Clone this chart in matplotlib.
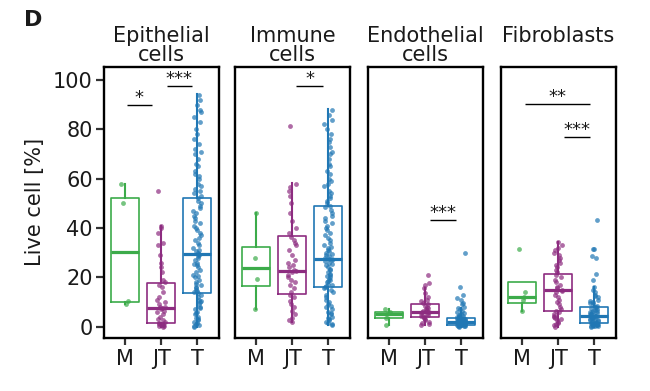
import numpy as np
import matplotlib
matplotlib.use("Agg")
import matplotlib.pyplot as plt

plt.rcParams['font.family'] = ['DejaVu Sans']

categories = ["M", "JT", "T"]
panel_titles = ["Epithelial\ncells", "Immune\ncells", "Endothelial\ncells", "Fibroblasts"]
colors = ["#3cab4a", "#8d2c80", "#2077b4"]
yticks = [0, 20, 40, 60, 80, 100]

# box statistics per panel: [M, JT, T]
epi_q1 = [10.1, 1.4, 13.5]; epi_med = [30.4, 7.4, 29.3]; epi_q3 = [52.0, 17.8, 52.3]
epi_lo = [9.3, 0.0, 0.0]; epi_hi = [58.0, 41.0, 94.5]
imm_q1 = [16.3, 13.3, 16.2]; imm_med = [23.6, 22.7, 27.4]; imm_q3 = [32.3, 36.9, 48.9]
imm_lo = [7.0, 2.0, 0.7]; imm_hi = [46.0, 58.1, 88.1]
endo_q1 = [3.4, 4.1, 0.7]; endo_med = [5.0, 6.1, 2.0]; endo_q3 = [6.1, 9.1, 3.4]
endo_lo = [0.8, 0.5, 0.0]; endo_hi = [7.0, 15.5, 7.5]
fib_q1 = [9.7, 6.5, 1.6]; fib_med = [12.2, 14.9, 4.5]; fib_q3 = [18.3, 21.4, 7.9]
fib_lo = [6.5, 0.0, 0.0]; fib_hi = [18.3, 34.5, 16.2]

# individual points
epi_M = [58.0, 50.0, 10.3, 9.3]
epi_JT = [55, 41, 40, 38, 34, 33, 29, 26, 24, 22, 19, 18, 17, 16, 14, 12, 11, 10, 9, 8, 8,
          7.5, 7, 6.5, 6, 5, 4, 3, 2.5, 2, 1.5, 1.2, 1, 0.8, 0.5, 0.3, 0.2, 0]
epi_T = [94, 92, 90, 88, 87, 85, 83, 80, 78, 76, 74, 72, 71, 70, 68, 66, 65, 63, 62, 61, 60,
         58, 57, 56, 55, 54, 53, 52, 51, 50, 49, 48, 47, 46, 45, 44, 43, 42, 41, 40, 39, 38,
         37, 36, 35, 34, 33, 32, 31, 30.5, 30, 29.5, 29, 28.5, 28, 27, 26, 25.5, 25, 24, 23,
         22, 21, 20.5, 20, 19, 18, 17.5, 17, 16, 15.5, 15, 14.5, 14, 13.5, 13, 12, 11, 10.5,
         10, 9, 8, 7.5, 7, 6, 5.5, 5, 4, 3.5, 3, 2.5, 2, 1.5, 1, 0.5, 0.2, 0]
imm_M = [46.0, 27.8, 19.5, 7.0]
imm_JT = [81.5, 58, 56.5, 55, 53, 50, 46, 43, 40, 38, 36.5, 35, 34, 33, 31, 29, 27, 26, 25,
          24, 23, 22.5, 22, 21, 20, 19, 18, 17, 15.5, 14, 13, 12, 10.5, 9, 8, 6.5, 5, 3.5, 2.5, 2]
imm_T = [88, 86, 84, 82, 80, 78, 76, 75, 73, 71, 70, 68, 66, 65, 63, 62, 60, 59, 58, 57, 55,
         54, 53, 52, 51, 50, 49, 48.5, 47.5, 46, 45, 44, 43, 42, 41, 40, 39, 38, 37, 36, 35,
         34, 33, 32.5, 32, 31, 30.5, 30, 29.5, 29, 28.5, 28, 27.5, 27.4, 27, 26.5, 26, 25.5,
         25, 24, 23.5, 23, 22, 21.5, 21, 20.5, 20, 19.5, 19, 18.5, 18, 17.5, 17, 16.5, 16.2,
         15.5, 15, 14, 13, 12, 11, 10, 9, 8.5, 8, 7, 6, 5.5, 5, 4, 3.5, 3, 2.5, 2, 1.5, 1, 0.7]
endo_M = [7.0, 6.0, 5.0, 3.4, 0.8]
endo_JT = [21, 17.7, 17, 15.5, 13.5, 12, 11, 10.5, 9.5, 9, 8.5, 8, 7.5, 7, 6.8, 6.5, 6.2, 6,
           5.8, 5.5, 5, 4.8, 4.5, 4.2, 4, 3.5, 3, 2.5, 2, 1.5, 1, 0.5]
endo_T = [30, 16.2, 12.8, 11.5, 10.8, 9.5, 9, 8, 7.5, 7, 6.5, 6, 5.5, 5, 4.8, 4.5, 4.2, 4,
          3.8, 3.6, 3.5, 3.4, 3.3, 3.2, 3.1, 3.0, 2.9, 2.8, 2.7, 2.6, 2.5, 2.4, 2.3, 2.2, 2.1,
          2.0, 2.0, 1.9, 1.8, 1.7, 1.6, 1.5, 1.4, 1.3, 1.2, 1.1, 1.0, 1.0, 0.9, 0.8, 0.7, 0.6,
          0.5, 0.4, 0.3, 0.2, 0.1, 0.0, 2.5, 3.0, 1.5, 2.2, 1.8, 0.8, 3.2, 2.6, 1.2, 0.5]
fib_M = [31.5, 14.0, 12.0, 10.8, 6.5]
fib_JT = [34.5, 33, 32, 31, 30, 29, 28, 27, 26, 25, 24, 23, 22, 21, 20, 19, 18, 17, 16, 15.5,
          15, 14.5, 14, 13, 12, 11, 10, 9, 8, 7, 6.5, 6, 5, 4.5, 4, 3.5, 3, 2.5, 2, 1.5, 1, 0.5, 0]
fib_T = [43.3, 31.5, 31.3, 28.5, 27.7, 21.4, 19, 16.2, 15, 14, 13, 12.5, 12, 11, 10.5, 10, 9.5,
         9, 8.5, 8, 7.8, 7.5, 7, 6.8, 6.5, 6.2, 6, 5.8, 5.5, 5.2, 5, 4.8, 4.5, 4.4, 4.2, 4, 3.8,
         3.6, 3.4, 3.2, 3, 2.8, 2.6, 2.4, 2.2, 2, 1.8, 1.6, 1.5, 1.4, 1.2, 1, 0.9, 0.8, 0.6, 0.5,
         0.4, 0.3, 0.2, 0.1, 0]

# significance brackets
sig_panel = [0, 0, 1, 2, 3, 3]
sig_x1 = [1.05, 2.15, 2.12, 2.14, 1.08, 2.16]
sig_x2 = [1.74, 2.84, 2.84, 2.85, 2.88, 2.88]
sig_y = [90.0, 97.4, 97.4, 43.2, 90.1, 77.0]
sig_label = ["*", "***", "*", "***", "**", "***"]

panels = [
    (epi_q1, epi_med, epi_q3, epi_lo, epi_hi, [epi_M, epi_JT, epi_T]),
    (imm_q1, imm_med, imm_q3, imm_lo, imm_hi, [imm_M, imm_JT, imm_T]),
    (endo_q1, endo_med, endo_q3, endo_lo, endo_hi, [endo_M, endo_JT, endo_T]),
    (fib_q1, fib_med, fib_q3, fib_lo, fib_hi, [fib_M, fib_JT, fib_T]),
]

W, H = 650, 391
fig = plt.figure(figsize=(W / 100, H / 100), dpi=100)
lefts = [104, 235, 368, 501]
pw = 115
top, bottom = 67, 338
rng = np.random.default_rng(3)

axes = []
for i, (q1, med, q3, lo, hi, pts) in enumerate(panels):
    ax = fig.add_axes([lefts[i] / W, 1 - bottom / H, pw / W, (bottom - top) / H])
    axes.append(ax)
    for j in range(3):
        stats = [dict(q1=q1[j], med=med[j], q3=q3[j], whislo=lo[j], whishi=hi[j], fliers=[])]
        c = colors[j]
        ax.bxp(stats, positions=[j + 1], widths=0.78, showcaps=False, showfliers=False,
               patch_artist=False,
               boxprops=dict(color=c, linewidth=1.2),
               whiskerprops=dict(color=c, linewidth=1.5),
               medianprops=dict(color=c, linewidth=2.3),
               manage_ticks=False)
        y = np.array(pts[j], dtype=float)
        x = (j + 1) + rng.uniform(-0.12, 0.12, size=len(y))
        ax.scatter(x, y, s=12, color=c, alpha=0.7, linewidths=0, zorder=3)
    ax.set_xlim(0.42, 3.6)
    ax.set_ylim(-4.6, 105.3)
    ax.set_xticks([1, 2, 3])
    ax.set_xticklabels(categories, fontsize=15, color="#1a1a1a")
    ax.tick_params(axis='x', length=5, width=1.6, color="#333333", pad=3)
    if i == 0:
        ax.set_yticks(yticks)
        ax.set_yticklabels([str(v) for v in yticks], fontsize=15, color="#1a1a1a")
        ax.tick_params(axis='y', length=6, width=1.6, color="#333333", pad=2)
    else:
        ax.set_yticks([])
    for sp in ax.spines.values():
        sp.set_linewidth(1.7)
        sp.set_color("black")
    fig.text((lefts[i] + pw / 2) / W, 1 - 26 / H, panel_titles[i],
             fontsize=15, ha='center', va='top', linespacing=0.95, color="#1a1a1a")

for p, x1, x2, y, lab in zip(sig_panel, sig_x1, sig_x2, sig_y, sig_label):
    ax = axes[p]
    ax.plot([x1, x2], [y, y], color="black", linewidth=1.0, solid_capstyle='butt')
    ax.annotate(lab, xy=((x1 + x2) / 2, y), xytext=(0, 1.5), textcoords='offset points',
                ha='center', va='baseline', fontsize=13, color="#1a1a1a")

fig.text(35 / W, 1 - 202 / H, "Live cell [%]", rotation=90, fontsize=15,
         ha='center', va='center', color="#1a1a1a")
fig.text(24 / W, 1 - 10 / H, "D", fontsize=16, fontweight='bold', ha='left', va='top',
         color="#1a1a1a")

fig.savefig("out.png", dpi=100)
